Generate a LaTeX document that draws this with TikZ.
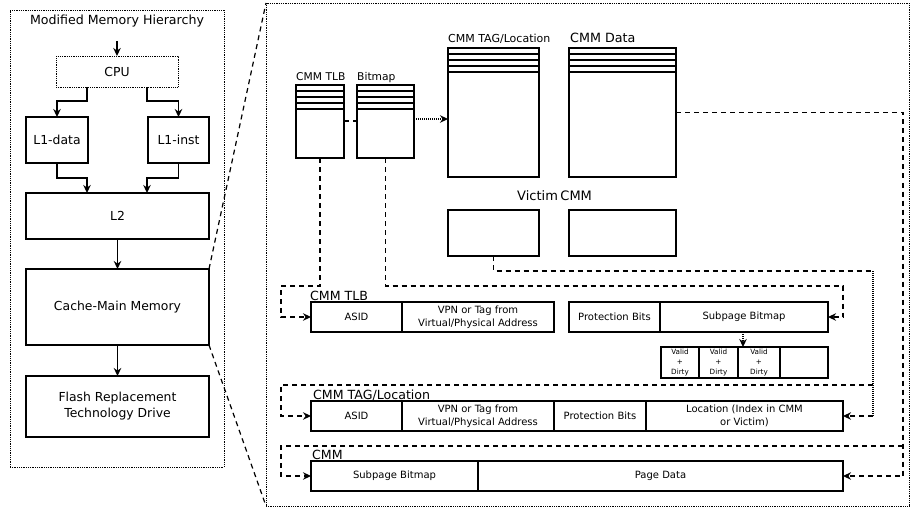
\documentclass[tikz,border=0pt]{standalone}
\usepackage{fontspec}
\setmainfont{DejaVu Sans}
\usetikzlibrary{arrows.meta}

\tikzset{
  box/.style={draw, line width=1.3pt, inner sep=0pt, outer sep=0pt, anchor=north west,
    align=center, font=\fontsize{12.4}{16}\selectfont},
  cell/.style={draw, line width=1.3pt, inner sep=0pt, outer sep=0pt, anchor=north west,
    align=center, font=\fontsize{10}{12.5}\selectfont},
  flag/.style={cell, font=\fontsize{7.2}{9.6}\selectfont},
  frame/.style={draw, line width=0.8pt, dash pattern=on 1pt off 0.8pt, inner sep=0pt,
    outer sep=0pt, anchor=north west},
  lbl/.style={inner sep=0pt, anchor=base west},
  rule/.style={line width=1.3pt},
  dsh/.style={line width=1.2pt, dash pattern=on 5pt off 4pt},
  dot/.style={line width=1.2pt, dash pattern=on 1pt off 1pt},
  tip/.style={-{Stealth[length=8pt,width=7.5pt]}},
}

\begin{document}
\begin{tikzpicture}[x=1pt,y=-1pt]
\useasboundingbox (0,0) rectangle (910,508);

% ---------- memory hierarchy ----------
\node[frame, minimum width=214pt, minimum height=457pt] (lp) at (10,10) {};
\node[anchor=base, inner sep=0pt, font=\fontsize{12.6}{15}\selectfont] (title) at (117,25) {Modified Memory Hierarchy};

\node[box, dash pattern=on 1pt off 0.8pt, line width=0.8pt, minimum width=122pt, minimum height=31pt] (cpu) at (56,56) {CPU};
\node[box, minimum width=62pt, minimum height=46pt] (l1d) at (26,117) {L1-data};
\node[box, minimum width=61pt, minimum height=46pt] (l1i) at (148,117) {L1-inst};
\node[box, minimum width=183pt, minimum height=46pt] (l2) at (26,193) {L2};
\node[box, minimum width=183pt, minimum height=76pt] (cmm) at (26,269) {Cache-Main Memory};
\node[box, minimum width=183pt, minimum height=61pt] (ftd) at (26,376) {Flash Replacement\\Technology Drive};

\coordinate (cpuin) at (117,41);
\draw[rule, tip] (cpuin) -- (cpu.north);
\draw[rule, tip] ([xshift=31pt]cpu.south west) -- ++(0,14) -| (l1d.north);
\draw[rule, tip] ([xshift=-31pt]cpu.south east) -- ++(0,14) -| (l1i.north);
\draw[rule, tip] (l1d.south) -- ++(0,15) -| ([xshift=61pt]l2.north west);
\draw[rule, tip] (l1i.south) -- ++(0,15) -| ([xshift=-62pt]l2.north east);
\draw[rule, tip] (l2.south) -- (cmm.north);
\draw[rule, tip] (cmm.south) -- (ftd.north);

% ---------- detail panel ----------
\node[frame, minimum width=643pt, minimum height=503pt] (rp) at (266,3) {};
\draw[dsh] (cmm.north east) -- (rp.north west);
\draw[dsh] (cmm.south east) -- (rp.south west);

% tables with a few entry rows at the top
\node[box, minimum width=48pt, minimum height=73pt] (tlb) at (296,85) {};
\node[box, minimum width=57pt, minimum height=73pt] (bmp) at (357,85) {};
\node[box, minimum width=91pt, minimum height=129pt] (tag) at (448,48) {};
\node[box, minimum width=107pt, minimum height=129pt] (dat) at (569,48) {};
\foreach \n in {tlb,bmp,tag,dat}
  \foreach \s in {6,12,18,24}
    \draw[rule] ([yshift=-\s pt]\n.north west) -- ([yshift=-\s pt]\n.north east);

\node[lbl, font=\fontsize{10.7}{13}\selectfont] (tlbl) at (296,81) {CMM TLB};
\node[lbl, font=\fontsize{10.7}{13}\selectfont] (bmpl) at (357,81) {Bitmap};
\node[lbl, font=\fontsize{11}{13}\selectfont] (tagl) at (448,43) {CMM TAG/Location};
\node[lbl, font=\fontsize{12.7}{15}\selectfont] (datl) at (570,43) {CMM Data};

\node[lbl, font=\fontsize{13}{15}\selectfont] (vicl) at (517,200) {Victim\hspace{2.5pt}CMM};
\node[box, minimum width=91pt, minimum height=46pt] (vic) at (448,210) {};
\node[box, minimum width=107pt, minimum height=46pt] (vic2) at (569,210) {};

\draw[dsh] ([yshift=-36pt]tlb.north east) -- ([yshift=-36pt]bmp.north west);
\draw[dot, tip] ([yshift=-34pt]bmp.north east) -- ([yshift=-71pt]tag.north west);

% TLB entry
\node[lbl, font=\fontsize{12.6}{15}\selectfont] (tlbrow) at (310,300) {CMM TLB};
\node[cell, minimum width=91pt, minimum height=30pt] (asid1) at (311,302) {ASID};
\node[cell, minimum width=152pt, minimum height=30pt] (vpn1) at (402,302) {VPN or Tag from\\Virtual/Physical Address};
\node[cell, minimum width=91pt, minimum height=30pt] (prot1) at (569,302) {Protection Bits};
\node[cell, minimum width=168pt, minimum height=30pt] (sub1) at (660,302) {Subpage Bitmap};

\node[flag, minimum width=38pt, minimum height=31pt] (vd1) at (661,347) {Valid\\+\\Dirty};
\node[flag, minimum width=39pt, minimum height=31pt] (vd2) at (699,347) {Valid\\+\\Dirty};
\node[flag, minimum width=42pt, minimum height=31pt] (vd3) at (738,347) {Valid\\+\\Dirty};
\node[flag, minimum width=48pt, minimum height=31pt] (vd4) at (780,347) {};
\draw[dot, tip] ([xshift=83pt]sub1.south west) -- ([xshift=83pt]sub1.south west |- vd3.north);

% TAG/Location entry
\node[lbl, font=\fontsize{12.6}{15}\selectfont] (tagrow) at (313,399) {CMM TAG/Location};
\node[cell, minimum width=91pt, minimum height=30pt] (asid2) at (311,401) {ASID};
\node[cell, minimum width=152pt, minimum height=30pt] (vpn2) at (402,401) {VPN or Tag from\\Virtual/Physical Address};
\node[cell, minimum width=92pt, minimum height=30pt] (prot2) at (554,401) {Protection Bits};
\node[cell, minimum width=197pt, minimum height=30pt] (loc) at (646,401) {Location (Index in CMM\\or Victim)};

% CMM entry
\node[lbl, font=\fontsize{12.6}{15}\selectfont] (cmmrow) at (312,459) {CMM};
\node[cell, minimum width=167pt, minimum height=30pt] (sub3) at (311,461) {Subpage Bitmap};
\node[cell, minimum width=365pt, minimum height=30pt] (page) at (478,461) {Page Data};

% links from the tables to their entry formats
\coordinate (ja) at (281,286);
\coordinate (jb) at (843,286);
\coordinate (jv) at (873,271);
\coordinate (jt) at (873,385);
\coordinate (jtl) at (281,385);
\coordinate (jd) at (903,446);
\coordinate (jc) at (281,446);

\draw[dsh, tip] (tlb.south) |- (ja) |- (asid1.west);
\draw[dsh, tip] (bmp.south) |- (jb) |- (sub1.east);
\draw[dsh] (vic.south) |- (jv);
\draw[dot] (jv) -- (jv |- loc.east);
\draw[dsh, tip] (jv |- loc.east) -- (loc.east);
\draw[dsh, tip] (jt) -- (jtl) |- (asid2.west);
\draw[dsh, tip] (dat.east) -| (jd) |- (page.east);
\draw[dsh, tip] (jd) -- (jc) |- (sub3.west);
\end{tikzpicture}
\end{document}
